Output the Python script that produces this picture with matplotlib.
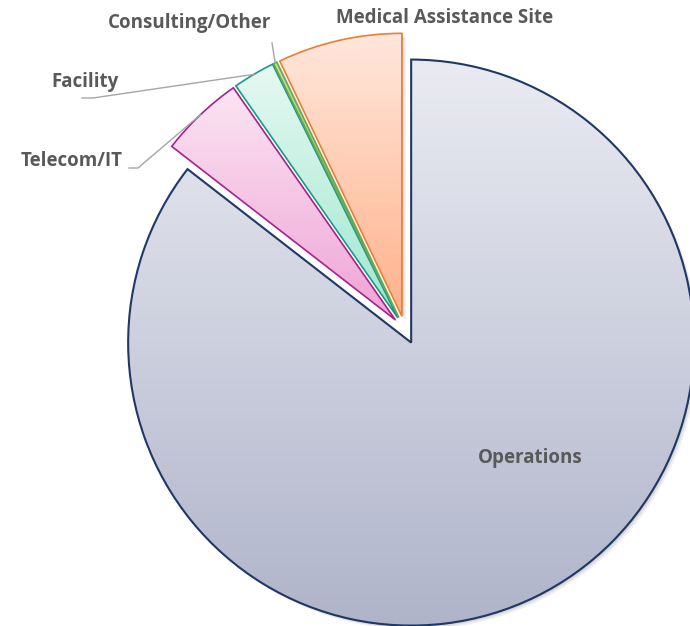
import numpy as np
import matplotlib.pyplot as plt
from matplotlib.colors import LinearSegmentedColormap
from matplotlib.patches import Wedge

# données (part en %)
categories = ["Operations", "Telecom/IT", "Facility", "Consulting/Other", "Medical Assistance Site"]
parts = [85.5, 4.8, 2.4, 0.2, 7.1]

couleur_haut = ["#eaebf2", "#fbe5f3", "#e6f9f2", "#c8e0a0", "#ffe7dc"]
couleur_bas = ["#afb4ca", "#efa3d5", "#9fe6d0", "#98c05c", "#ffb28b"]
couleur_bord = ["#1f3864", "#a6228c", "#189a88", "#6aa84f", "#ed7d31"]

GRIS_TEXTE = "#595959"
GRIS_LIGNE = "#a6a6a6"


def remplir_degrade(ax, wedge, haut, bas):
    verts = wedge.get_path().vertices
    x0, y0 = verts.min(axis=0)
    x1, y1 = verts.max(axis=0)
    cmap = LinearSegmentedColormap.from_list("g", [bas, haut])
    grad = np.linspace(0, 1, 256).reshape(-1, 1)
    im = ax.imshow(grad, cmap=cmap, extent=(x0, x1, y0, y1), origin="lower",
                   aspect="auto", zorder=2, interpolation="bicubic")
    im.set_clip_path(wedge)


def point_arc(wedge):
    tm = np.deg2rad((wedge.theta1 + wedge.theta2) / 2)
    cx, cy = wedge.center
    return cx + wedge.r * np.cos(tm), cy + wedge.r * np.sin(tm)


fig = plt.figure(figsize=(6.9, 6.26), dpi=100)
ax = fig.add_axes([0, 0, 1, 1])

wedges, _ = ax.pie(parts, startangle=90, counterclock=False, radius=283,
                   center=(405, 296), explode=[14] * len(parts),
                   wedgeprops=dict(facecolor="none", linewidth=1.2, zorder=3))

for w, h, b, e in zip(wedges, couleur_haut, couleur_bas, couleur_bord):
    w.set_edgecolor(e)
    # ombre légère
    for k, a in [(4, 0.06), (2.5, 0.08), (1.2, 0.1)]:
        ombre = Wedge((w.center[0] + k, w.center[1] - k), w.r, w.theta1, w.theta2,
                      facecolor="black", edgecolor="none", alpha=a, zorder=1)
        ax.add_patch(ombre)
    remplir_degrade(ax, w, h, b)
wedges[0].set_linewidth(1.5)

police = dict(family=["Open Sans", "DejaVu Sans"], fontweight="bold", fontsize=13.5, color=GRIS_TEXTE)

# étiquette intérieure
ax.text(530, 168, categories[0], ha="center", va="center", **police)

# étiquettes extérieures avec lignes de rappel
ax.text(445, 608, categories[4], ha="center", va="center", **police)
ax.text(190, 603, categories[3], ha="center", va="center", **police)
ax.text(85, 544, categories[2], ha="center", va="center", **police)
ax.text(72, 465, categories[1], ha="center", va="center", **police)

depart = {1: [(129, 458), (138, 458)], 2: [(82, 528), (93, 528)], 3: [(272, 583)]}
for i, pts in depart.items():
    px, py = point_arc(wedges[i])
    xs = [p[0] for p in pts] + [px]
    ys = [p[1] for p in pts] + [py]
    ax.plot(xs, ys, color=GRIS_LIGNE, linewidth=1.0, zorder=4)

ax.set_xlim(0, 690)
ax.set_ylim(0, 626)
ax.set_aspect("equal")
ax.axis("off")

plt.savefig("out.png", dpi=100)
